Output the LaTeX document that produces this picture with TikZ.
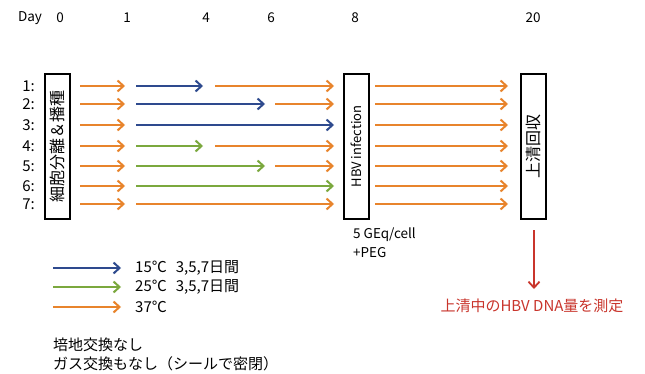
\documentclass[tikz,border=0pt]{standalone}
\usepackage{fontspec}
\setmainfont{Noto Sans CJK JP}
\usetikzlibrary{arrows.meta}
\definecolor{cblue}{HTML}{2E4A8E}
\definecolor{cgreen}{HTML}{7BA83E}
\definecolor{corange}{HTML}{E8842C}
\definecolor{cred}{HTML}{C9352C}
\begin{document}
\begin{tikzpicture}[x=1pt,y=-1pt,
  arr/.style={line width=2.4pt,-{Straight Barb[length=6pt,width=11pt,line width=2pt]}},
  ob/.style={arr,draw=corange},
  bb/.style={arr,draw=cblue},
  gb/.style={arr,draw=cgreen},
  boxst/.style={draw=black,line width=2pt,fill=white,minimum width=25pt,minimum height=145pt,inner sep=0pt},
  lab/.style={font=\fontsize{13.5}{15}\selectfont,inner sep=0pt},
  jp/.style={font=\fontsize{15}{17}\selectfont,inner sep=0pt,anchor=west}]
\useasboundingbox[fill=white] (0,0) rectangle (645,374);
% day labels
\node[lab] (dday) at (30,18) {Day};
\node[lab] (d0) at (60,18) {0};
\node[lab] (d1) at (127,18) {1};
\node[lab] (d4) at (206,18) {4};
\node[lab] (d6) at (271,18) {6};
\node[lab] (d8) at (355,18) {8};
\node[lab] (d20) at (533,18) {20};
% boxes
\node[boxst] (b0) at (57.5,146.5) {};
\node[rotate=90,font=\fontsize{16}{18}\selectfont,inner sep=0pt] (b0t) at (b0.center) {細胞分離＆播種};
\node[boxst] (b8) at (356.5,146.5) {};
\node[rotate=90,font=\fontsize{13}{15}\selectfont,inner sep=0pt] (b8t) at (b8.center) {HBV infection};
\node[boxst] (b20) at (533.5,146.5) {};
\node[rotate=90,font=\fontsize{16}{18}\selectfont,inner sep=0pt] (b20t) at (b20.center) {上清回収};
% rows
\foreach \i/\y in {1/86,2/104,3/125,4/146,5/166,6/186,7/204}{
  \node[lab,anchor=east,font=\fontsize{15}{17}\selectfont] (r\i) at (35,\y) {\i:};
  \coordinate (a\i) at (80,\y);
  \coordinate (b\i) at (125,\y);
  \coordinate (c\i) at (136,\y);
  \coordinate (d\i) at (203,\y);
  \coordinate (e\i) at (215,\y);
  \coordinate (f\i) at (265,\y);
  \coordinate (g\i) at (275,\y);
  \coordinate (h\i) at (334,\y);
  \coordinate (i\i) at (375,\y);
  \coordinate (j\i) at (508,\y);
  \draw[ob] (a\i) -- (b\i);
  \draw[ob] (i\i) -- (j\i);
}
\draw[bb] (c1) -- (d1); \draw[ob] (e1) -- (h1);
\draw[bb] (c2) -- (f2); \draw[ob] (g2) -- (h2);
\draw[bb] (c3) -- (h3);
\draw[gb] (c4) -- (d4); \draw[ob] (e4) -- (h4);
\draw[gb] (c5) -- (f5); \draw[ob] (g5) -- (h5);
\draw[gb] (c6) -- (h6);
\draw[ob] (c7) -- (h7);
% infection notes
\node[lab,anchor=west] (geq) at (353,235) {5 GEq/cell};
\node[lab,anchor=west] (peg) at (353,253) {+PEG};
% red arrow
\coordinate (rs) at (534,230);
\node[font=\fontsize{15}{17}\selectfont,text=cred,inner sep=0pt] (meas) at (532,306) {上清中のHBV DNA量を測定};
\draw[line width=1.8pt,draw=cred,-{Straight Barb[length=6pt,width=11pt,line width=1.8pt]}] (rs) -- (534,289);
% legend
\coordinate (l1a) at (53,268); \coordinate (l1b) at (121,268);
\coordinate (l2a) at (53,287); \coordinate (l2b) at (121,287);
\coordinate (l3a) at (53,307); \coordinate (l3b) at (121,307);
\draw[bb] (l1a) -- (l1b);
\draw[gb] (l2a) -- (l2b);
\draw[ob] (l3a) -- (l3b);
\node[jp] (t1) at (135,268) {15℃\hspace{9pt}3,5,7日間};
\node[jp] (t2) at (135,287) {25℃\hspace{9pt}3,5,7日間};
\node[jp] (t3) at (135,307) {37℃};
\node[jp] (n1) at (53,345) {培地交換なし};
\node[jp] (n2) at (53,364) {ガス交換もなし（シールで密閉）};
\end{tikzpicture}
\end{document}
